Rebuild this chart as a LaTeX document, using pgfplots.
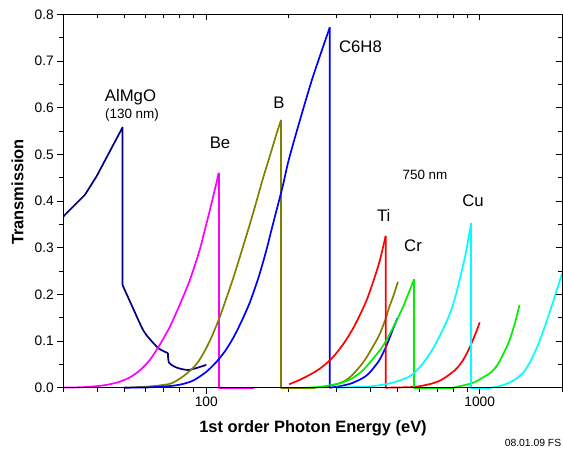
\documentclass[border=0pt]{standalone}
\usepackage{fontspec}
\setmainfont{Liberation Sans}
\usepackage{pgfplots}
\pgfplotsset{compat=1.18}

\definecolor{cNavy}{RGB}{0,0,128}
\definecolor{cOlive}{RGB}{128,128,0}
\definecolor{cBlue}{RGB}{0,0,255}
\definecolor{cMagenta}{RGB}{255,0,255}
\definecolor{cRed}{RGB}{255,0,0}
\definecolor{cGreen}{RGB}{0,240,0}
\definecolor{cCyan}{RGB}{0,255,255}

\begin{document}
\begin{tikzpicture}
\useasboundingbox (0bp,0bp) rectangle (563bp,450bp);

\begin{axis}[
  xmode=log, xmin=30, xmax=2000, ymin=0, ymax=0.8,
  at={(63.3bp,62.3bp)}, anchor=south west,
  scale only axis, width=498.7bp, height=373.2bp,
  xtick={100,1000},
  minor xtick={30,40,50,60,70,80,90,200,300,400,500,600,700,800,900,2000},
  ytick={0,0.1,0.2,0.3,0.4,0.5,0.6,0.7,0.8},
  minor ytick={0.05,0.15,0.25,0.35,0.45,0.55,0.65,0.75},
  major tick length=6bp, minor tick length=4bp,
  axis line style={line width=0.9bp},
  tick style={black, line width=0.9bp},
  clip=false,
  xtick pos=bottom, ytick pos=left, tick align=outside,
  xticklabels={100,1000},
  yticklabels={0.0,0.1,0.2,0.3,0.4,0.5,0.6,0.7,0.8},
  tick label style={font=\fontsize{13.8}{16}\selectfont},
  every axis plot/.append style={line width=1.7bp, line join=round},
  rise/.style={smooth, tension=0.45},
]
% AlMgO (130 nm)
\addplot[cNavy] coordinates {
 (30,0.367) (36,0.4135) (39.7,0.453) (49.4,0.558) (49.4,0.220)
};
\addplot[cNavy, rise] coordinates {
 (49.4,0.220) (54.0,0.170) (58.7,0.124) (62.2,0.104) (67.1,0.084) (72.4,0.074)
};
\addplot[cNavy, rise] coordinates {
 (72.4,0.074) (73,0.054) (76.6,0.045) (80,0.041) (85.7,0.038) (91.9,0.042) (100,0.049)
};
% Be
\addplot[cMagenta, rise] coordinates {
 (30,0.0003) (35,0.001) (40.8,0.004) (44.5,0.0075) (48.3,0.013) (52.5,0.022)
 (57.1,0.037) (62.1,0.059) (67.6,0.092) (73.5,0.130) (80,0.178) (87,0.230)
 (94,0.290) (97.2,0.322) (102.8,0.378) (108.8,0.438) (111,0.461)
};
\addplot[cMagenta] coordinates {(111,0.461) (111,0) (150,0)};
% B
\addplot[cOlive, rise] coordinates {
 (50,0.0003) (60,0.002) (70,0.006) (75,0.010) (82.2,0.024) (90,0.044)
 (95,0.062) (100,0.085) (105,0.111) (111.8,0.150) (118,0.189) (125,0.232)
 (132,0.276) (143.9,0.348) (150,0.384) (160.7,0.446) (172.5,0.505)
 (180,0.541) (187.7,0.574)
};
\addplot[cOlive] coordinates {(187.7,0.574) (187.7,0) (250,0)};
\addplot[cOlive, rise] coordinates {
 (250,0) (282,0.004) (306,0.009) (324,0.016) (342,0.027) (372.4,0.052)
 (394,0.074) (428.5,0.112) (453,0.148) (465.6,0.171) (485,0.199) (502,0.227)
};
% C6H8
\addplot[cBlue, rise] coordinates {
 (50,0) (60,0.0005) (67.6,0.002) (75,0.004) (82.2,0.008) (90,0.016)
 (100,0.034) (108.8,0.055) (117,0.078) (125,0.105) (133,0.136) (143.9,0.181)
 (155,0.235) (165.4,0.292) (177,0.360) (190.2,0.431) (200,0.487)
 (218.7,0.568) (245,0.665) (283,0.7725)
};
\addplot[cBlue] coordinates {(283,0.7725) (283,0) (300,0.002)};
\addplot[cBlue, rise] coordinates {
 (300,0.002) (324,0.006) (342,0.010) (372,0.020) (394,0.031) (428.5,0.058)
 (453,0.086) (465.6,0.103) (485,0.130) (500,0.149)
};
% Ti
\addplot[cRed, rise] coordinates {
 (201,0.0073) (220,0.017) (238,0.027) (259,0.040) (280,0.056) (298,0.073)
 (320,0.097) (342,0.124) (362,0.152) (385,0.186) (405,0.222) (430,0.270)
 (453,0.3255)
};
\addplot[cRed] coordinates {(453,0.3255) (453,0) (550,0.001)};
\addplot[cRed, rise] coordinates {
 (550,0.001) (600,0.003) (670,0.009) (720,0.016)
 (770,0.027) (820,0.040) (862,0.056) (900,0.075) (936,0.097) (970,0.119)
 (1000,0.140)
};
% Cr
\addplot[cGreen, rise] coordinates {
 (230,0) (250,0.001) (270,0.003) (300,0.008) (324,0.014) (342,0.020)
 (372,0.036) (394,0.052) (428.5,0.078) (453,0.099) (493,0.140) (525,0.174)
 (575,0.232)
};
\addplot[cGreen] coordinates {(575,0.232) (575,0) (800,0)};
\addplot[cGreen, rise] coordinates {
 (800,0) (887,0.006) (950,0.011) (1014,0.020)
 (1100,0.033) (1170,0.052) (1272,0.095) (1340,0.135) (1399,0.1775)
};
% Cu
\addplot[cCyan, rise] coordinates {
 (300,0) (400,0.003) (466,0.009) (507,0.015) (540,0.021) (575,0.031)
 (620,0.052) (670,0.081) (720,0.115) (770,0.152) (810,0.190) (850,0.238)
 (890,0.290) (930,0.353)
};
\addplot[cCyan] coordinates {(930,0.353) (930,0) (1100,0)};
\addplot[cCyan, rise] coordinates {
 (1100,0) (1170,0.003) (1250,0.008)
 (1350,0.018) (1450,0.034) (1550,0.062) (1640,0.094) (1730,0.131)
 (1810,0.165) (1890,0.199) (2000,0.245)
};
\end{axis}

% inward ticks on the top and right edges
\begin{axis}[
  xmode=log, xmin=30, xmax=2000, ymin=0, ymax=0.8,
  at={(63.3bp,62.3bp)}, anchor=south west,
  scale only axis, width=498.7bp, height=373.2bp,
  xtick={100,1000},
  minor xtick={30,40,50,60,70,80,90,200,300,400,500,600,700,800,900,2000},
  ytick={0,0.1,0.2,0.3,0.4,0.5,0.6,0.7,0.8},
  minor ytick={0.05,0.15,0.25,0.35,0.45,0.55,0.65,0.75},
  major tick length=6bp, minor tick length=4bp,
  axis line style={line width=0.9bp},
  tick style={black, line width=0.9bp},
  xtick pos=top, ytick pos=right, tick align=inside,
  xticklabels={}, yticklabels={},
]
\addplot[draw=none] coordinates {(100,0.1)};
\end{axis}

% curve labels
\node[font=\fontsize{16.8}{19}\selectfont] at (130.5bp,352.5bp) {AlMgO};
\node[font=\fontsize{13.5}{16}\selectfont] at (132bp,335.3bp) {(130 nm)};
\node[font=\fontsize{16.8}{19}\selectfont] at (220bp,307bp) {Be};
\node[font=\fontsize{16.8}{19}\selectfont] at (279bp,347bp) {B};
\node[font=\fontsize{16.8}{19}\selectfont] at (360.5bp,403.5bp) {C6H8};
\node[font=\fontsize{13.5}{16}\selectfont] at (425bp,275bp) {750 nm};
\node[font=\fontsize{16.8}{19}\selectfont] at (473bp,249bp) {Cu};
\node[font=\fontsize{16.8}{19}\selectfont] at (383.7bp,235bp) {Ti};
\node[font=\fontsize{16.8}{19}\selectfont] at (413bp,204.5bp) {Cr};

% axis titles and stamp
\node[font=\bfseries\fontsize{16.5}{19}\selectfont] at (313bp,21.5bp) {1st order Photon Energy (eV)};
\node[font=\bfseries\fontsize{16.5}{19}\selectfont, rotate=90] at (17.5bp,258bp) {Transmission};
\node[font=\fontsize{10.4}{12}\selectfont] at (533bp,7bp) {08.01.09 FS};
\end{tikzpicture}
\end{document}
